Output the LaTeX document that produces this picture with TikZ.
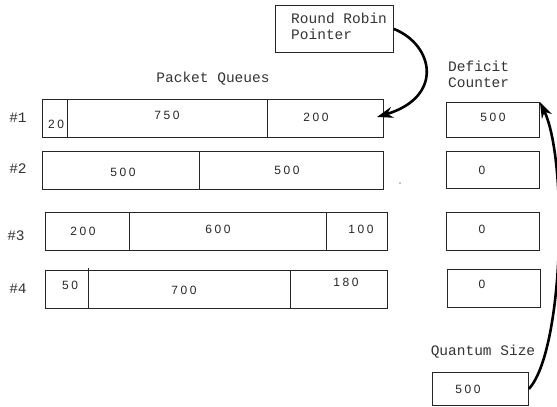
\documentclass[tikz,border=0pt]{standalone}
\usepackage{fontspec}
\setmainfont{Liberation Sans}
\newfontfamily\labelfont{Liberation Mono}
\newfontfamily\numfont[LetterSpace=22]{Liberation Sans}
\usetikzlibrary{arrows.meta}

\begin{document}
\begin{tikzpicture}[x=1pt, y=-1pt, >={Stealth[length=16pt, width=11pt]}]
\tikzset{
  box/.style={draw=black!85, line width=0.9pt, inner sep=0pt, anchor=north west},
  qbox/.style={box, minimum height=38pt},
  divider/.style={draw=black!85, line width=0.9pt},
  lbl/.style={font=\labelfont\fontsize{14.5}{16}\selectfont, text=black!80, inner sep=0pt, align=left},
  num/.style={font=\numfont\fontsize{12}{14}\selectfont, text=black!85, inner sep=0pt},
  bigarrow/.style={->, line width=2.6pt}
}
\useasboundingbox (0,0) rectangle (557,407);
% Round robin pointer
\node[box, minimum width=118pt, minimum height=47pt] (rr) at (275,5) {};
\node[lbl, anchor=north west] (rrtext) at (291,13) {Round Robin\\Pointer};
% Headings
\node[lbl] (pq) at (213,79) {Packet Queues};
\node[lbl, anchor=north west] (dc) at (448,61) {Deficit\\Counter};
% Queue #1
\node[lbl] (n1) at (18,118) {\#1};
\node[qbox, minimum width=341pt] (q1) at (42,99) {};
\draw[divider] (67,99) -- (67,137);
\draw[divider] (267,99) -- (267,137);
\node[num] (q1a) at (56,124) {20};
\node[num] (q1b) at (167,115) {750};
\node[num] (q1c) at (316,117) {200};
% Queue #2
\node[lbl] (n2) at (18,169) {\#2};
\node[qbox, minimum width=341pt] (q2) at (42,151) {};
\draw[divider] (199,151) -- (199,190);
\node[num] (q2a) at (123,172) {500};
\node[num] (q2b) at (287,170) {500};
\fill (400,183) circle (0.6pt);
% Queue #3
\node[lbl] (n3) at (16,236) {\#3};
\node[qbox, minimum width=342pt] (q3) at (45,212) {};
\draw[divider] (129,212) -- (129,250);
\draw[divider] (326,212) -- (326,250);
\node[num] (q3a) at (83,231) {200};
\node[num] (q3b) at (218,229) {600};
\node[num] (q3c) at (361,229) {100};
% Queue #4
\node[lbl] (n4) at (18,289) {\#4};
\node[qbox, minimum width=342pt] (q4) at (45,270) {};
\draw[divider] (88,268) -- (88,308);
\draw[divider] (290,270) -- (290,308);
\node[num] (q4a) at (70,285) {50};
\node[num] (q4b) at (184,290) {700};
\node[num] (q4c) at (346,282) {180};
% Deficit counters
\node[box, minimum width=93pt, minimum height=35pt] (d1) at (446,102) {};
\node[num] (d1t) at (493,117) {500};
\node[qbox, minimum width=93pt, minimum height=37pt] (d2) at (446,151) {};
\node[num] (d2t) at (482,170) {0};
\node[qbox, minimum width=93pt] (d3) at (446,212) {};
\node[num] (d3t) at (482,229) {0};
\node[qbox, minimum width=93pt] (d4) at (447,269) {};
\node[num] (d4t) at (482,284) {0};
% Quantum
\node[lbl] (qs) at (483,352) {Quantum Size};
\node[box, minimum width=96pt, minimum height=33pt] (qb) at (432,372) {};
\node[num] (qbt) at (468,389) {500};
% Arrows
\coordinate (q1tip) at (377,117);
\draw[bigarrow] (rr.east) .. controls (434,45) and (444,97) .. (q1tip);
\draw[bigarrow] (qb.east) .. controls (564,350) and (568,160) .. (d1.north east);
\end{tikzpicture}
\end{document}
